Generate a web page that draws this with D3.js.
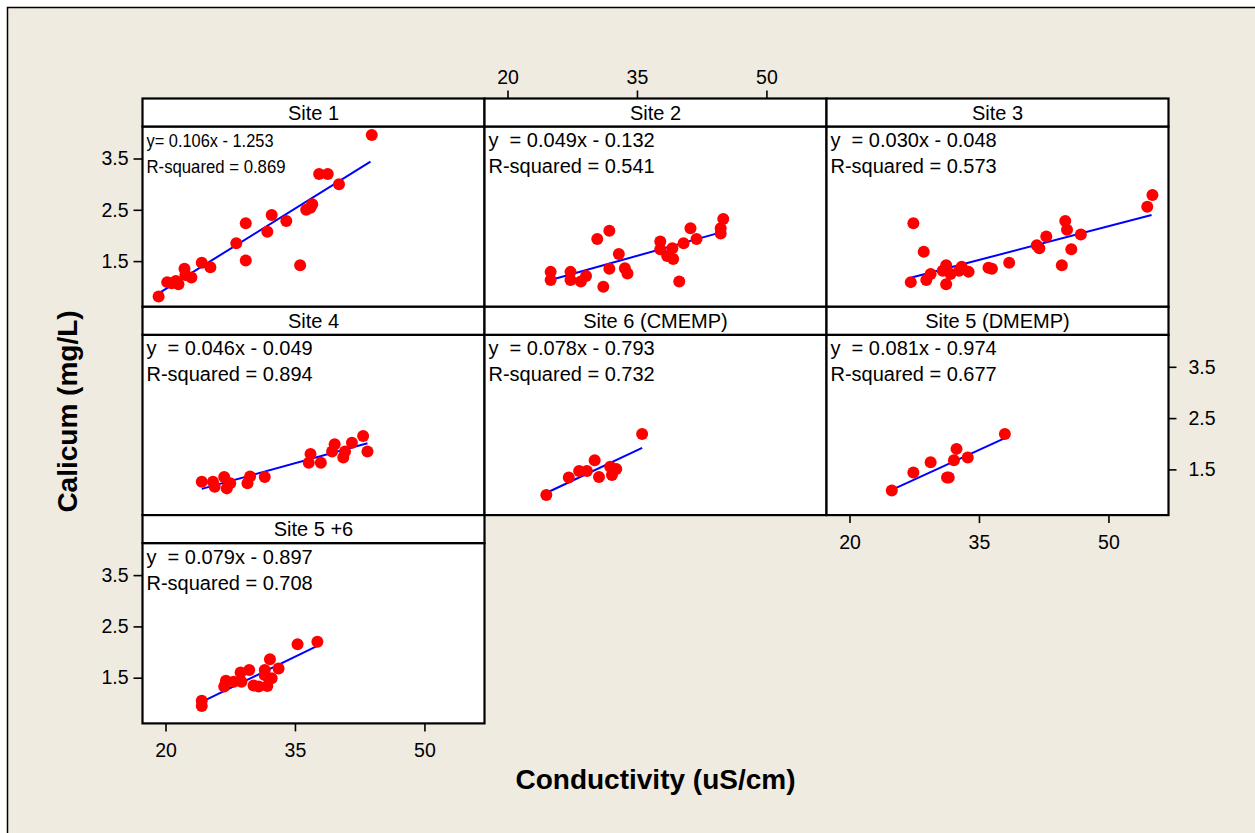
<!DOCTYPE html>
<html>
<head>
<meta charset="utf-8">
<script src="https://cdn.jsdelivr.net/npm/d3@7"></script>
<style>
body { margin: 0; background: #ffffff; }
svg text { font-family: "Liberation Sans", Arial, sans-serif; fill: #000; }
</style>
</head>
<body>
<div id="vis"></div>
<script>
// Constants for the page
const FRAME_WIDTH = 1255;
const FRAME_HEIGHT = 833;
const BG = "#efebe1";

// panel grid (top-left of the Site 1 panel, panel sizes)
const GRID = {left: 142.5, top: 98.5, colStep: 342, rowStep: 208.3};
const PANEL_W = 342;
const STRIP_H = 28;
const PLOT_H = GRID.rowStep - STRIP_H;

// data
const PANEL_TITLES = ["Site 1", "Site 2", "Site 3", "Site 4", "Site 6 (CMEMP)", "Site 5 (DMEMP)", "Site 5 +6"];
const EQUATIONS = ["y= 0.106x - 1.253", "y  = 0.049x - 0.132", "y  = 0.030x - 0.048", "y  = 0.046x - 0.049",
                   "y  = 0.078x - 0.793", "y  = 0.081x - 0.974", "y  = 0.079x - 0.897"];
const R_SQUARED = ["R-squared = 0.869", "R-squared = 0.541", "R-squared = 0.573", "R-squared = 0.894",
                   "R-squared = 0.732", "R-squared = 0.677", "R-squared = 0.708"];

const SITE1_X = [19.2, 20.2, 20.7, 21.2, 21.5, 22.2, 22.3, 23.0, 24.2, 25.2, 28.2, 29.3, 29.3, 31.8, 32.3, 34.0, 35.6, 36.3, 36.8, 37.0, 37.8, 38.8, 40.1, 43.9];
const SITE1_Y = [0.81, 1.09, 1.07, 1.11, 1.05, 1.35, 1.23, 1.18, 1.47, 1.38, 1.85, 2.24, 1.51, 2.07, 2.40, 2.28, 1.42, 2.50, 2.54, 2.61, 3.20, 3.20, 3.00, 3.96];

const SITE2_X = [25.0, 25.0, 27.3, 27.3, 28.5, 29.1, 30.4, 31.1, 31.8, 31.8, 32.9, 33.6, 33.9, 37.7, 37.7, 38.5, 39.1, 39.2, 39.9, 40.4, 41.2, 41.9, 44.7, 44.7, 45.0];
const SITE2_Y = [1.29, 1.13, 1.29, 1.13, 1.10, 1.21, 1.93, 1.00, 2.09, 1.35, 1.64, 1.36, 1.26, 1.88, 1.73, 1.60, 1.75, 1.54, 1.10, 1.85, 2.14, 1.93, 2.04, 2.14, 2.32];

const SITE3_X = [27.1, 27.4, 28.6, 28.9, 29.4, 30.8, 31.2, 31.2, 31.7, 32.7, 33.0, 33.8, 36.1, 36.5, 38.5, 41.7, 42.0, 42.8, 44.6, 45.0, 45.2, 45.7, 46.8, 54.5, 55.1];
const SITE3_Y = [1.09, 2.24, 1.68, 1.13, 1.25, 1.31, 1.42, 1.05, 1.25, 1.31, 1.39, 1.29, 1.37, 1.35, 1.47, 1.81, 1.75, 1.98, 1.42, 2.28, 2.11, 1.73, 2.02, 2.56, 2.79];

const SITE4_X = [24.2, 25.5, 25.7, 26.8, 27.1, 27.5, 29.5, 29.8, 31.5, 36.6, 36.8, 38.0, 39.3, 39.6, 40.6, 40.8, 41.6, 42.9, 43.4];
const SITE4_Y = [1.26, 1.26, 1.16, 1.35, 1.13, 1.23, 1.23, 1.36, 1.35, 1.63, 1.80, 1.63, 1.85, 1.99, 1.73, 1.85, 2.02, 2.15, 1.85];

const SITE6_X = [24.5, 27.1, 28.3, 29.2, 30.1, 30.6, 31.9, 32.1, 32.6, 35.6];
const SITE6_Y = [1.00, 1.34, 1.47, 1.47, 1.68, 1.35, 1.55, 1.39, 1.51, 2.19];

const SITE5_X = [24.9, 27.4, 29.4, 31.3, 31.5, 32.1, 32.4, 33.7, 38.0];
const SITE5_Y = [1.09, 1.44, 1.64, 1.34, 1.34, 1.68, 1.90, 1.73, 2.19];

const SITE56_X = [24.2, 24.2, 26.8, 27.0, 27.9, 28.7, 28.8, 29.7, 30.2, 30.8, 31.5, 31.5, 31.8, 32.1, 32.3, 33.1, 35.3, 37.6];
const SITE56_Y = [1.05, 0.95, 1.33, 1.44, 1.42, 1.60, 1.42, 1.65, 1.35, 1.33, 1.65, 1.55, 1.34, 1.86, 1.49, 1.68, 2.15, 2.20];

// fitted line ends as drawn in each panel
const FIT_X0 = [19.2, 25.4, 27.2, 24.2, 24.6, 24.9, 24.2];
const FIT_Y0 = [0.87, 1.15, 1.18, 1.12, 1.05, 1.10, 1.03];
const FIT_X1 = [43.75, 44.3, 55.0, 43.4, 35.6, 38.0, 37.6];
const FIT_Y1 = [3.44, 2.04, 2.40, 2.01, 1.92, 2.11, 2.12];

const X_TICKS = [20, 35, 50];
const Y_TICKS = [1.5, 2.5, 3.5];
const X_DOMAIN = [17.335, 56.96];
const Y_DOMAIN = [0.609, 4.124];

const SITE_X = [SITE1_X, SITE2_X, SITE3_X, SITE4_X, SITE6_X, SITE5_X, SITE56_X];
const SITE_Y = [SITE1_Y, SITE2_Y, SITE3_Y, SITE4_Y, SITE6_Y, SITE5_Y, SITE56_Y];

// row / column of each panel
const PANEL_ROW = [0, 0, 0, 1, 1, 1, 2];
const PANEL_COL = [0, 1, 2, 0, 1, 2, 0];

const FRAME = d3.select("#vis")
    .append("svg")
    .attr("width", FRAME_WIDTH)
    .attr("height", FRAME_HEIGHT);

// beige frame of the graph window
FRAME.append("rect")
    .attr("x", 7.5).attr("y", 7.5)
    .attr("width", FRAME_WIDTH + 20).attr("height", FRAME_HEIGHT + 20)
    .attr("fill", BG)
    .attr("stroke", "#000").attr("stroke-width", 1.5);

// scales for each column and row
function xScale(c) {
    const left = GRID.left + c * GRID.colStep;
    return d3.scaleLinear().domain(X_DOMAIN).range([left, left + PANEL_W]);
}
function yScale(r) {
    const top = GRID.top + r * GRID.rowStep + STRIP_H;
    return d3.scaleLinear().domain(Y_DOMAIN).range([top + PLOT_H, top]);
}

PANEL_TITLES.forEach((title, i) => {
    const r = PANEL_ROW[i], c = PANEL_COL[i];
    const X = xScale(c), Y = yScale(r);
    const left = GRID.left + c * GRID.colStep;
    const top = GRID.top + r * GRID.rowStep;
    const g = FRAME.append("g");

    // data region
    g.append("rect")
        .attr("x", left).attr("y", top + STRIP_H)
        .attr("width", PANEL_W).attr("height", PLOT_H)
        .attr("fill", "#fff").attr("stroke", "#000").attr("stroke-width", 2.2);

    // strip with the panel title
    g.append("rect")
        .attr("x", left).attr("y", top)
        .attr("width", PANEL_W).attr("height", STRIP_H)
        .attr("fill", "#fff").attr("stroke", "#000").attr("stroke-width", 2.2);
    g.append("text")
        .attr("x", left + PANEL_W / 2).attr("y", top + STRIP_H / 2)
        .attr("dy", "0.36em")
        .attr("text-anchor", "middle")
        .attr("font-size", "20px")
        .text(title);

    // fitted line
    g.append("line")
        .attr("x1", X(FIT_X0[i])).attr("y1", Y(FIT_Y0[i]))
        .attr("x2", X(FIT_X1[i])).attr("y2", Y(FIT_Y1[i]))
        .attr("stroke", "#0000ff").attr("stroke-width", 2);

    // points
    g.selectAll(".pt")
        .data(d3.zip(SITE_X[i], SITE_Y[i]))
        .enter()
        .append("circle")
        .attr("cx", (d) => { return X(d[0]); })
        .attr("cy", (d) => { return Y(d[1]); })
        .attr("r", 6)
        .attr("fill", "#ff0000");

    // equation and r-squared
    const eq = g.append("text")
        .attr("x", left + 4).attr("y", top + STRIP_H + 20.5)
        .attr("font-size", "20px")
        .style("white-space", "pre")
        .text(EQUATIONS[i]);
    const rs = g.append("text")
        .attr("x", left + 4).attr("y", top + STRIP_H + 46.5)
        .attr("font-size", "20px")
        .style("white-space", "pre")
        .text(R_SQUARED[i]);
    if (i === 0) {
        // site 1 text is squeezed in the original
        eq.attr("font-size", "18.5px").attr("textLength", 127).attr("lengthAdjust", "spacingAndGlyphs");
        rs.attr("font-size", "18.5px").attr("textLength", 139).attr("lengthAdjust", "spacingAndGlyphs");
    }
});

// style an axis group
function styleAxis(sel) {
    sel.select(".domain").remove();
    sel.selectAll("line").attr("stroke", "#000").attr("stroke-width", 1.6);
    sel.selectAll("text")
        .attr("font-family", "'Liberation Sans', Arial, sans-serif")
        .attr("font-size", "19.5px").attr("fill", "#000");
}

// left axes: rows 0 and 2
[0, 2].forEach((r) => {
    FRAME.append("g")
        .attr("transform", "translate(" + GRID.left + ",0)")
        .call(d3.axisLeft(yScale(r)).tickValues(Y_TICKS).tickFormat(d3.format(".1f")).tickSize(9).tickPadding(5))
        .call(styleAxis);
});

// right axis: row 1 beside the last column
FRAME.append("g")
    .attr("transform", "translate(" + (GRID.left + 2 * GRID.colStep + PANEL_W) + ",0)")
    .call(d3.axisRight(yScale(1)).tickValues(Y_TICKS).tickFormat(d3.format(".1f")).tickSize(8).tickPadding(12))
    .call(styleAxis);

// top axis above the middle column
FRAME.append("g")
    .attr("transform", "translate(0," + GRID.top + ")")
    .call(d3.axisTop(xScale(1)).tickValues(X_TICKS).tickSize(8).tickPadding(7))
    .call(styleAxis);

// bottom axes: column 0 under row 2, column 2 under row 1
FRAME.append("g")
    .attr("transform", "translate(0," + (GRID.top + 3 * GRID.rowStep) + ")")
    .call(d3.axisBottom(xScale(0)).tickValues(X_TICKS).tickSize(8).tickPadding(12))
    .call(styleAxis);
FRAME.append("g")
    .attr("transform", "translate(0," + (GRID.top + 2 * GRID.rowStep) + ")")
    .call(d3.axisBottom(xScale(2)).tickValues(X_TICKS).tickSize(8).tickPadding(12))
    .call(styleAxis);

// axis titles
FRAME.append("text")
    .attr("x", 655.5).attr("y", 789)
    .attr("text-anchor", "middle")
    .attr("font-size", "28px").attr("font-weight", "bold")
    .text("Conductivity (uS/cm)");
FRAME.append("text")
    .attr("transform", "translate(77,411.5) rotate(-90)")
    .attr("text-anchor", "middle")
    .attr("font-size", "28px").attr("font-weight", "bold")
    .text("Calicum (mg/L)");
</script>
</body>
</html>
